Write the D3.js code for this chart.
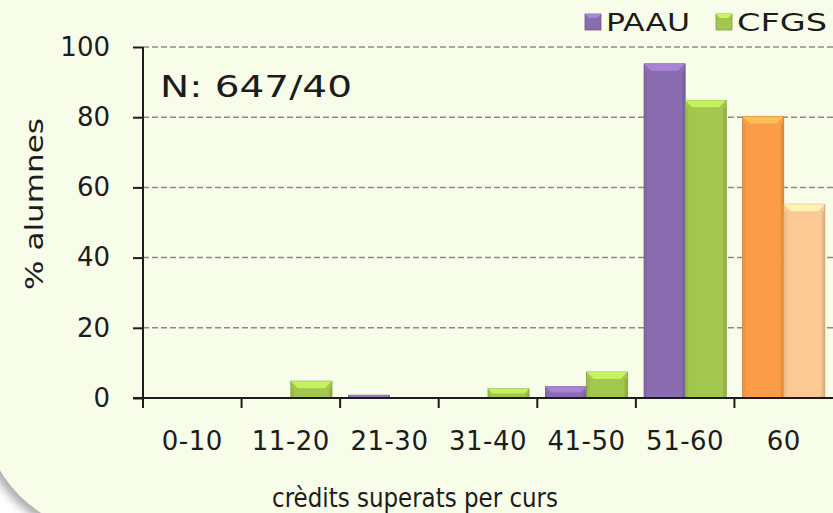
<!DOCTYPE html>
<html>
<head>
<meta charset="utf-8">
<style>
  html, body { margin: 0; padding: 0; background: #ffffff; }
  svg { display: block; }
  text { font-family: "DejaVu Sans", "Open Sans", sans-serif; fill: #1c1c1c; }
</style>
</head>
<body>
<script src="https://cdn.jsdelivr.net/npm/d3@7/dist/d3.min.js"></script>
<script>
// *** DATA ***
var categories = ["0-10", "11-20", "21-30", "31-40", "41-50", "51-60", "60"];
var seriesNames = ["PAAU", "CFGS"];
var paau = [0, 0, 0.8, 0, 3.2, 95.2, 80.2];
var cfgs = [0, 4.8, 0, 2.6, 7.4, 84.8, 55.2];
var yTicks = [0, 20, 40, 60, 80, 100];
var seriesColors = ["#8a6cb0", "#a2c64e"];
var lastColors = ["#fb9d48", "#fcc893"];
var noteText = "N: 647/40";
var xTitle = "crèdits superats per curs";
var yTitle = "% alumnes";

// *** LAYOUT ***
var W = 833, H = 513;
var plotL = 143, plotR = 833, plotT = 47, plotB = 398;

var svg = d3.select("body").append("svg")
  .attr("width", W).attr("height", H);

var defs = svg.append("defs");
var sh = defs.append("filter").attr("id", "shadow")
  .attr("x", "-10%").attr("y", "-10%").attr("width", "120%").attr("height", "120%");
sh.append("feDropShadow").attr("dx", -5).attr("dy", 5).attr("stdDeviation", 4)
  .attr("flood-color", "#7a7a7a").attr("flood-opacity", 0.6);

// background card (only its bottom-left corner shows)
svg.append("rect")
  .attr("x", -18).attr("y", -300).attr("width", 1000).attr("height", 833)
  .attr("rx", 128).attr("ry", 128)
  .attr("fill", "#f8fdea")
  .attr("filter", "url(#shadow)");

// *** SCALES ***
var x0 = d3.scaleBand().domain(categories).range([plotL, plotR]).paddingInner(0).paddingOuter(0);
var x1 = d3.scaleBand().domain(seriesNames).range([0, x0.bandwidth()]).paddingInner(0).paddingOuter(0.2);
var y = d3.scaleLinear().domain([0, 100]).range([plotB, plotT]);

// gridlines
svg.append("g").selectAll("line").data(yTicks.filter(function(d){ return d > 0; }))
  .enter().append("line")
  .attr("x1", plotL).attr("x2", plotR)
  .attr("y1", function(d){ return y(d); }).attr("y2", function(d){ return y(d); })
  .attr("stroke", "#8a8a8a").attr("stroke-width", 1.5).attr("stroke-dasharray", "6,3");

// bars
var rows = [];
categories.forEach(function(c, i){
  rows.push({cat: c, s: 0, v: paau[i], color: (c === "60" ? lastColors[0] : seriesColors[0])});
  rows.push({cat: c, s: 1, v: cfgs[i], color: (c === "60" ? lastColors[1] : seriesColors[1])});
});
rows = rows.filter(function(d){ return d.v > 0; });

var bars = svg.append("g").selectAll("g.bar").data(rows).enter().append("g").attr("class", "bar");
bars.each(function(d){
  var g = d3.select(this);
  var bx = x0(d.cat) + x1(seriesNames[d.s]);
  var bw = x1.bandwidth();
  var by = y(d.v), bh = y(0) - y(d.v);
  var base = d3.color(d.color);
  g.append("rect").attr("x", bx).attr("y", by).attr("width", bw).attr("height", bh)
    .attr("fill", d.color).attr("stroke", base.darker(0.7)).attr("stroke-width", 0.8);
  var bev = Math.min(7, bh / 2);
  // top bevel
  g.append("path")
    .attr("d", "M" + bx + "," + by + "L" + (bx + bw) + "," + by + "L" + (bx + bw - bev) + "," + (by + bev) +
      "L" + (bx + bev) + "," + (by + bev) + "Z")
    .attr("fill", base.brighter(0.55));
  // side shading
  g.append("rect").attr("x", bx).attr("y", by + bev).attr("width", 3).attr("height", Math.max(0, bh - bev))
    .attr("fill", base.darker(0.3)).attr("opacity", 0.5);
  g.append("rect").attr("x", bx + bw - 3).attr("y", by + bev).attr("width", 3).attr("height", Math.max(0, bh - bev))
    .attr("fill", base.darker(0.6)).attr("opacity", 0.5);
});

// y axis
var yAxis = svg.append("g").attr("transform", "translate(" + plotL + ",0)")
  .call(d3.axisLeft(y).tickValues(yTicks).tickSize(10).tickPadding(23).tickFormat(d3.format("d")));
yAxis.select(".domain").attr("stroke", "#1c1c1c").attr("stroke-width", 2).attr("d", "M0," + plotT + "V" + plotB);
yAxis.selectAll(".tick line").attr("stroke", "#1c1c1c").attr("stroke-width", 2);
yAxis.selectAll(".tick text").style("font-size", "26px").attr("fill", "#1c1c1c");

// x axis
var xAxis = svg.append("g").attr("transform", "translate(0," + plotB + ")")
  .call(d3.axisBottom(x0).tickSize(0));
xAxis.select(".domain").attr("stroke", "#1c1c1c").attr("stroke-width", 2).attr("d", "M" + (plotL - 10) + ",0H" + plotR);
xAxis.selectAll(".tick text").style("font-size", "26px").attr("fill", "#1c1c1c")
  .attr("y", 52).attr("dy", 0).attr("letter-spacing", "0.5px");
// category boundary ticks
svg.append("g").selectAll("line").data(categories)
  .enter().append("line")
  .attr("x1", function(d){ return x0(d); }).attr("x2", function(d){ return x0(d); })
  .attr("y1", plotB).attr("y2", plotB + 10)
  .attr("stroke", "#1c1c1c").attr("stroke-width", 2);

// titles
svg.append("text").attr("x", 415).attr("y", 507).attr("text-anchor", "middle")
  .attr("textLength", 286).attr("lengthAdjust", "spacingAndGlyphs")
  .style("font-size", "26px").text(xTitle);
svg.append("text").attr("transform", "translate(43,204) rotate(-90)").attr("text-anchor", "middle")
  .attr("textLength", 172).attr("lengthAdjust", "spacingAndGlyphs")
  .style("font-size", "25px").text(yTitle);
svg.append("text").attr("x", 160).attr("y", 97)
  .attr("textLength", 192).attr("lengthAdjust", "spacingAndGlyphs")
  .style("font-size", "31px").text(noteText);

// legend
var legend = svg.append("g");
var lx = [585, 716];
var lw = [84, 90];
seriesNames.forEach(function(name, i){
  var c = d3.color(seriesColors[i]);
  legend.append("rect").attr("x", lx[i]).attr("y", 14).attr("width", 16).attr("height", 16)
    .attr("fill", seriesColors[i]).attr("stroke", c.darker(0.6)).attr("stroke-width", 0.8);
  legend.append("path")
    .attr("d", "M" + lx[i] + ",14L" + (lx[i] + 16) + ",14L" + (lx[i] + 12) + ",18L" + (lx[i] + 4) + ",18Z")
    .attr("fill", c.brighter(0.6));
  legend.append("text").attr("x", lx[i] + 21).attr("y", 31)
    .attr("textLength", lw[i]).attr("lengthAdjust", "spacingAndGlyphs")
    .style("font-size", "24px").text(name);
});
</script>
</body>
</html>
